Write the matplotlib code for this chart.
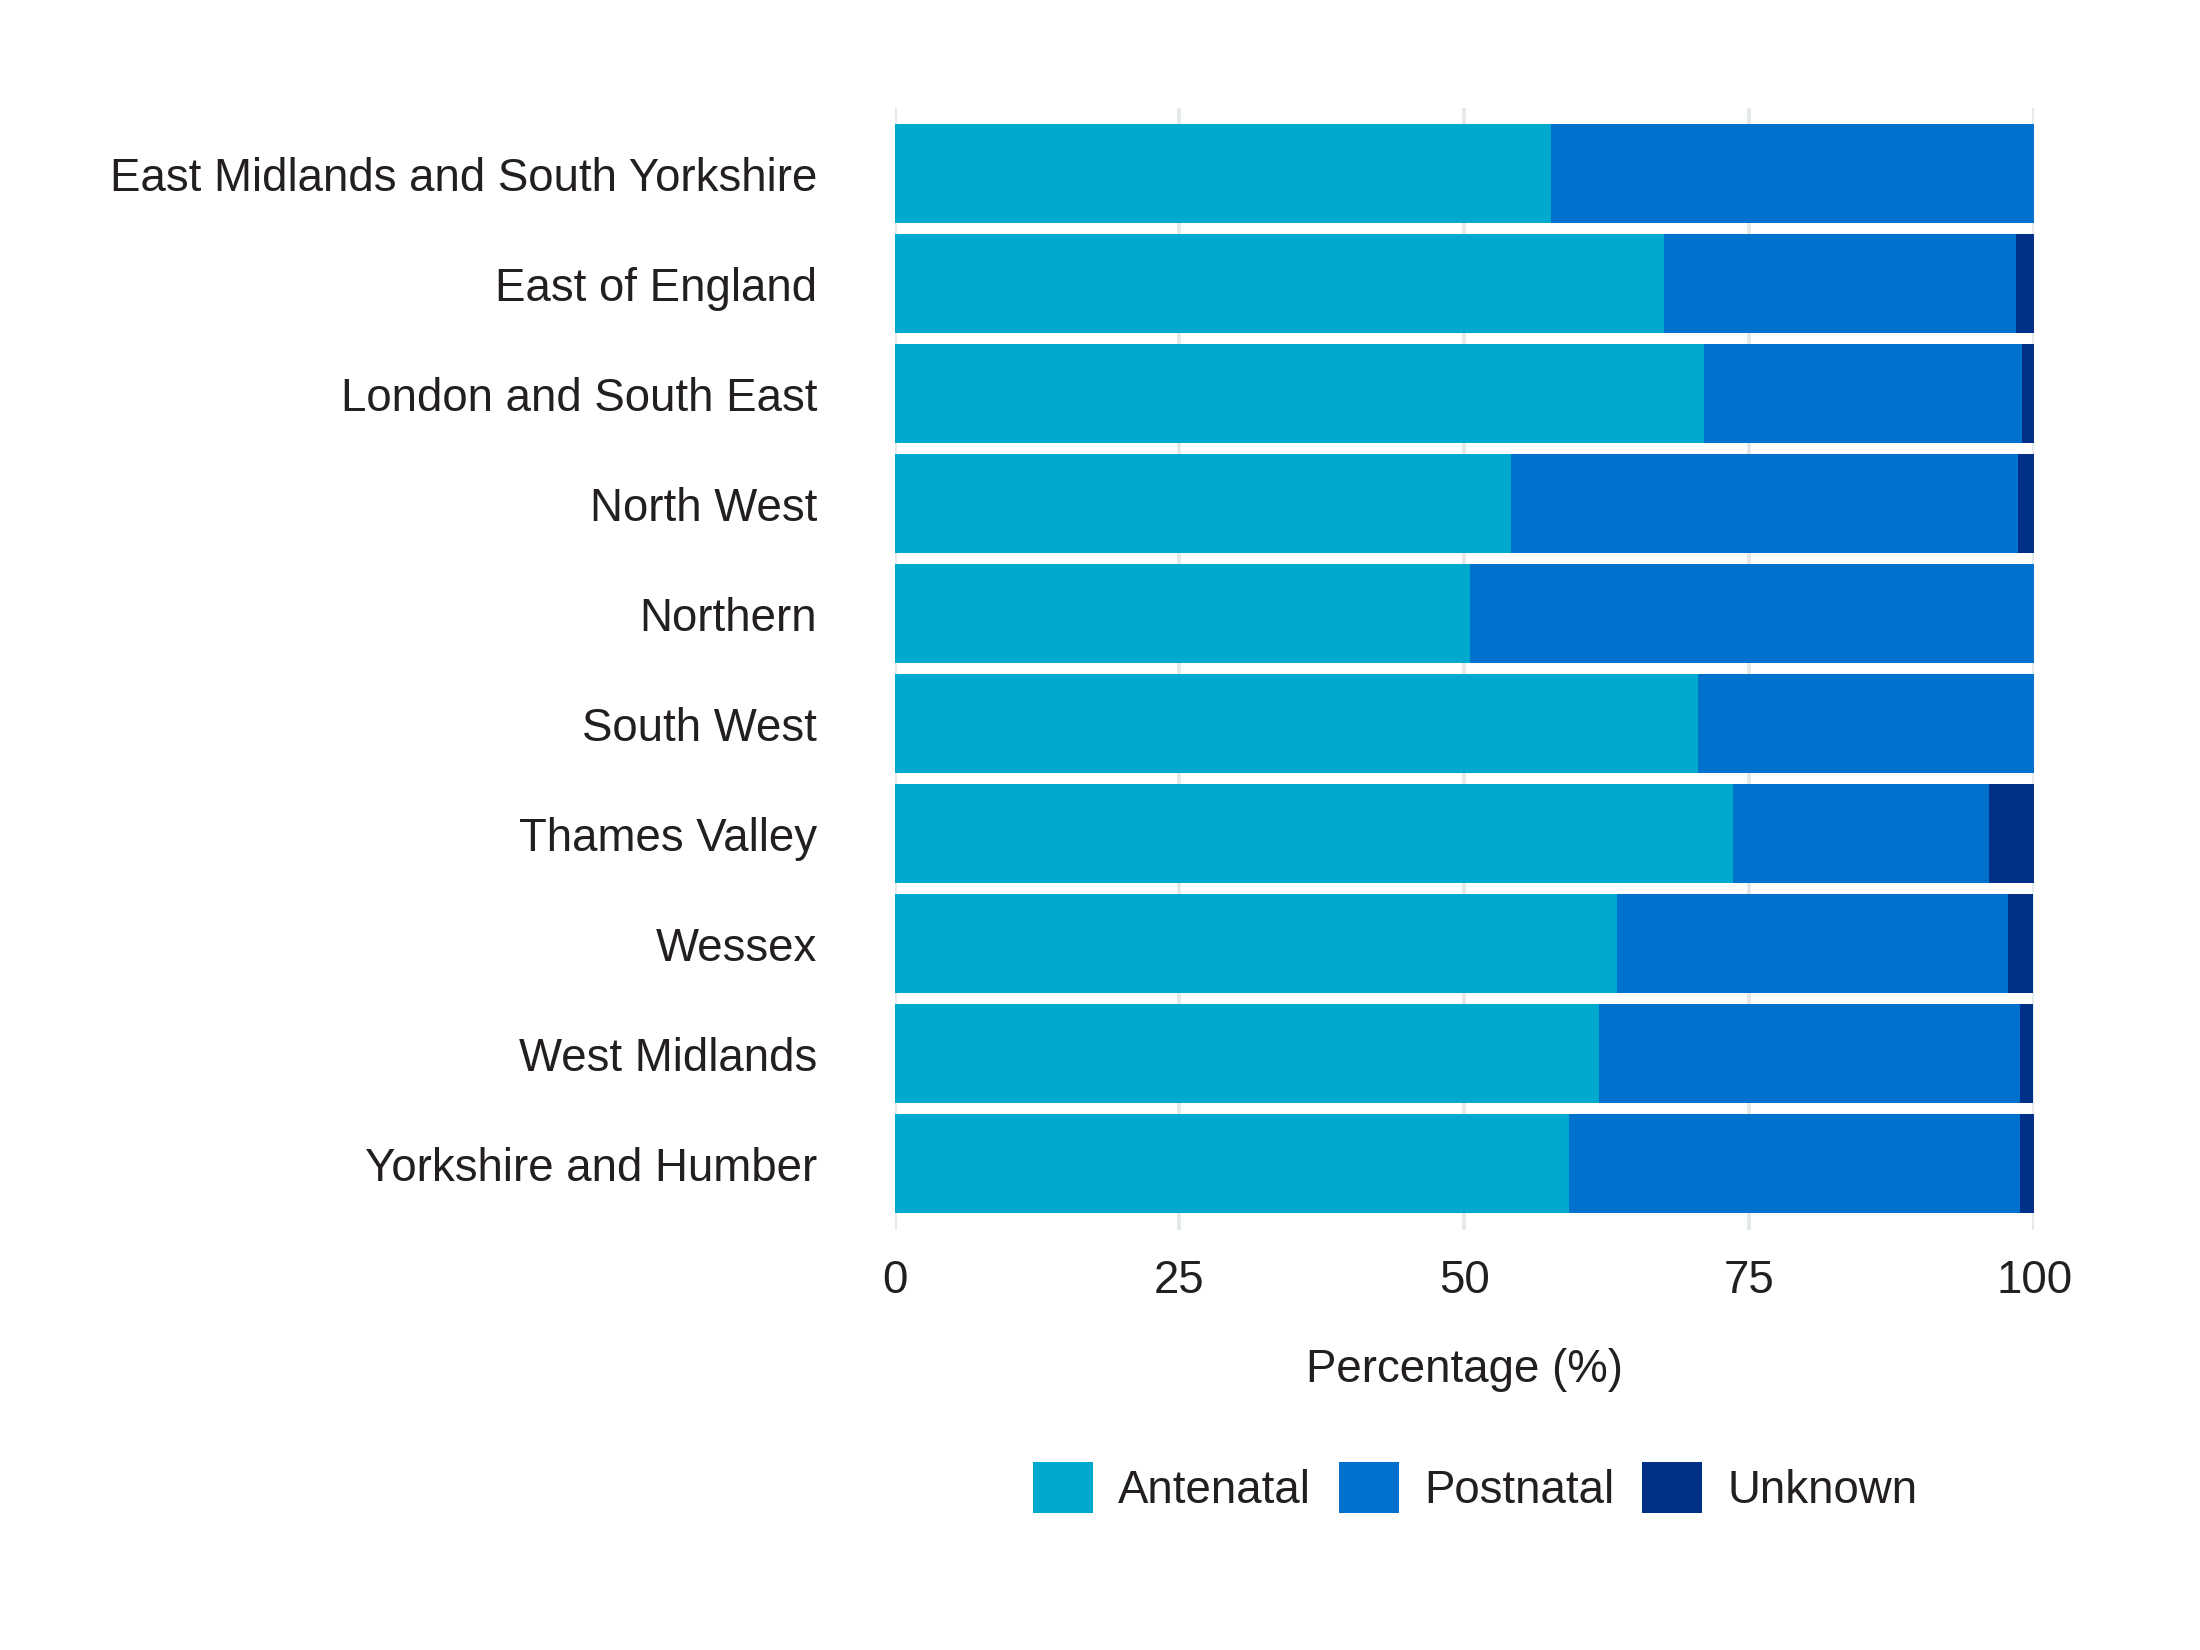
import matplotlib
matplotlib.use("Agg")
import matplotlib.pyplot as plt
import numpy as np

regions = ["East Midlands and South Yorkshire", "East of England", "London and South East",
           "North West", "Northern", "South West", "Thames Valley", "Wessex",
           "West Midlands", "Yorkshire and Humber"]
antenatal = [57.6, 67.5, 71.0, 54.1, 50.5, 70.5, 73.6, 63.4, 61.8, 59.2]
postnatal = [42.4, 30.85, 27.9, 44.5, 49.5, 29.5, 22.4, 34.3, 36.9, 39.5]
unknown = [0.0, 1.65, 1.1, 1.4, 0.0, 0.0, 4.0, 2.2, 1.2, 1.3]
series_names = ["Antenatal", "Postnatal", "Unknown"]
colors = ["#00A9CE", "#0072CE", "#003087"]
xticks = [0, 25, 50, 75, 100]

plt.rcParams['font.family'] = ['Liberation Sans', 'DejaVu Sans']
text_color = "#231F20"
fs = 16.45

fig = plt.figure(figsize=(11, 8.25), dpi=200)
ax = fig.add_axes([0.4066, 0.2547, 0.5181, 0.6799])

y = np.arange(len(regions))
left = np.zeros(len(regions))
for vals, name, c in zip([antenatal, postnatal, unknown], series_names, colors):
    vals = np.array(vals)
    ax.barh(y, vals, left=left, height=0.9, color=c, label=name, zorder=2)
    left = left + vals

ax.set_xlim(0, 100)
ax.set_ylim(len(regions) - 0.4, -0.6)
ax.set_yticks(y)
ax.set_yticklabels(regions)
ax.set_xticks(xticks)
ax.set_xticklabels([str(t) for t in xticks])
ax.tick_params(axis='y', length=0, pad=27.9, labelsize=fs, labelcolor=text_color)
ax.tick_params(axis='x', length=0, pad=10.5, labelsize=fs, labelcolor=text_color)
ax.grid(axis='x', color="#E3E8E9", linewidth=1.4, zorder=0)
ax.grid(axis='y', visible=False)
ax.set_axisbelow(True)
for s in ax.spines.values():
    s.set_visible(False)

ax.set_xlabel("Percentage (%)", fontsize=fs, color=text_color)
ax.xaxis.set_label_coords(0.5, -0.125)
ax.xaxis.label.set_va('center')

fig.legend(loc='center', bbox_to_anchor=(0.6705, 0.0984), ncol=3, frameon=False,
           fontsize=fs, handlelength=1.32, handleheight=1.32, handletextpad=0.55,
           columnspacing=0.6, labelcolor=text_color)

fig.savefig("out.png", dpi=200, facecolor="white")
